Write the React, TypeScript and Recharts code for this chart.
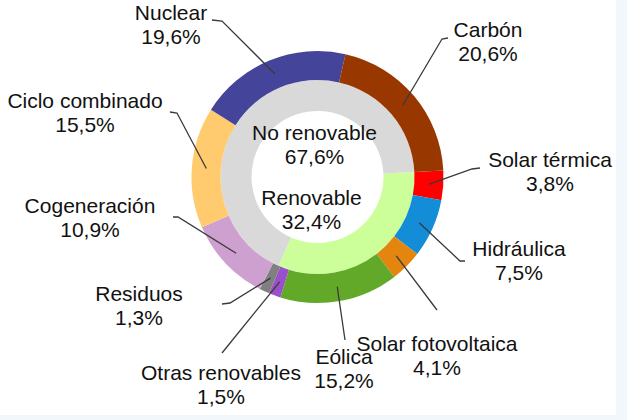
import React from 'react';
import { PieChart, Pie, Cell } from 'recharts';

// Outer ring: sources, clockwise from 3 o'clock
const sourceNames = [
  'Solar térmica',
  'Hidráulica',
  'Solar fotovoltaica',
  'Eólica',
  'Otras renovables',
  'Residuos',
  'Cogeneración',
  'Ciclo combinado',
  'Nuclear',
  'Carbón',
];
const sourceValues = [3.8, 7.5, 4.1, 15.2, 1.5, 1.3, 10.9, 15.5, 19.6, 20.6];
const sourceColors = [
  '#FF0000',
  '#138DD8',
  '#E3850F',
  '#62A829',
  '#9A50C8',
  '#808080',
  '#CEA0CF',
  '#FFCB6E',
  '#44449A',
  '#993700',
];

// Inner ring: groups
const groupNames = ['Renovable', 'No renovable'];
const groupValues = [32.4, 67.6];
const groupColors = ['#CCFF99', '#D9D9D9'];

// Label layout (offsets from pie centre): text block centre, leader start, leader elbow
const sourceLabelLayout = [
  { tx: 232.5, ty: -6, sx: 162.5, sy: -9, ex: 154.5, ey: -8 },
  { tx: 201.5, ty: 83, sx: 147.5, sy: 84, ex: 142.5, ey: 84 },
  { tx: 119.5, ty: 178, sx: 119.5, sy: 133, ex: 119.5, ey: 133 },
  { tx: 26.5, ty: 191.5, sx: 27.5, sy: 163, ex: 27.5, ey: 163 },
  { tx: -96.5, ty: 207.5, sx: -95.5, sy: 176, ex: -95.5, ey: 176 },
  { tx: -178.5, ty: 128, sx: -95.5, sy: 127, ex: -87.5, ey: 126 },
  { tx: -227.5, ty: 40.5, sx: -144.5, sy: 40, ex: -139.5, ey: 40 },
  { tx: -232.5, ty: -65, sx: -147.5, sy: -65, ex: -140.5, ey: -64 },
  { tx: -146.5, ty: -152.5, sx: -105.5, sy: -157, ex: -95.5, ey: -156 },
  { tx: 170.5, ty: -135.5, sx: 130.5, sy: -139, ex: 124.5, ey: -138 },
];
const groupLabelLayout = [
  { tx: -6, ty: 32.5 },
  { tx: -3, ty: -32.5 },
];

const sourceData = sourceNames.map((name, i) => ({ name, value: sourceValues[i] }));
const groupData = groupNames.map((name, i) => ({ name, value: groupValues[i] }));

const FONT = '"Liberation Sans", Arial, sans-serif';
const FONT_SIZE = 21;
const LINE_GAP = 12;
const RAD = Math.PI / 180;

const fmt = (v: number) => v.toFixed(1).replace('.', ',') + '%';

const TwoLine = ({ x, y, a, b }: { x: number; y: number; a: string; b: string }) => (
  <g>
    <text x={x} y={y - LINE_GAP} textAnchor="middle" dominantBaseline="central" fontFamily={FONT} fontSize={FONT_SIZE} fill="#111111">
      {a}
    </text>
    <text x={x} y={y + LINE_GAP} textAnchor="middle" dominantBaseline="central" fontFamily={FONT} fontSize={FONT_SIZE} fill="#111111">
      {b}
    </text>
  </g>
);

const renderSourceLabel = (props: any) => {
  const { cx, cy, midAngle, innerRadius, outerRadius, index } = props;
  const L = sourceLabelLayout[index];
  const r = (innerRadius + outerRadius) / 2;
  const ax = cx + r * Math.cos(-midAngle * RAD);
  const ay = cy + r * Math.sin(-midAngle * RAD);
  const pts = `${cx + L.sx},${cy + L.sy} ${cx + L.ex},${cy + L.ey} ${ax},${ay}`;
  return (
    <g key={`sl-${index}`}>
      <polyline points={pts} fill="none" stroke="#3a3a3a" strokeWidth={1.3} />
      <TwoLine x={cx + L.tx} y={cy + L.ty} a={sourceNames[index]} b={fmt(sourceValues[index])} />
    </g>
  );
};

const renderGroupLabel = (props: any) => {
  const { cx, cy, index } = props;
  const L = groupLabelLayout[index];
  return (
    <g key={`gl-${index}`}>
      <TwoLine x={cx + L.tx} y={cy + L.ty} a={groupNames[index]} b={fmt(groupValues[index])} />
    </g>
  );
};

export default function App() {
  return (
    <div style={{ position: 'absolute', left: 0, top: 0, width: 627, height: 420, background: '#F2F7FC' }}>
      <div style={{ position: 'absolute', left: 0, top: 0, width: 616, height: 415, background: '#FFFFFF' }} />
      <div style={{ position: 'absolute', left: 0, top: 0 }}>
        <PieChart width={627} height={420}>
          <Pie
            data={groupData}
            dataKey="value"
            nameKey="name"
            cx={312.5}
            cy={172}
            innerRadius={66}
            outerRadius={97}
            startAngle={3}
            endAngle={-357}
            stroke="none"
            label={renderGroupLabel}
            labelLine={false}
            isAnimationActive={false}
          >
            {groupData.map((d, i) => (
              <Cell key={d.name} fill={groupColors[i]} />
            ))}
          </Pie>
          <Pie
            data={sourceData}
            dataKey="value"
            nameKey="name"
            cx={312.5}
            cy={172}
            innerRadius={97}
            outerRadius={126}
            startAngle={3}
            endAngle={-357}
            stroke="none"
            label={renderSourceLabel}
            labelLine={false}
            isAnimationActive={false}
          >
            {sourceData.map((d, i) => (
              <Cell key={d.name} fill={sourceColors[i]} />
            ))}
          </Pie>
        </PieChart>
      </div>
    </div>
  );
}
